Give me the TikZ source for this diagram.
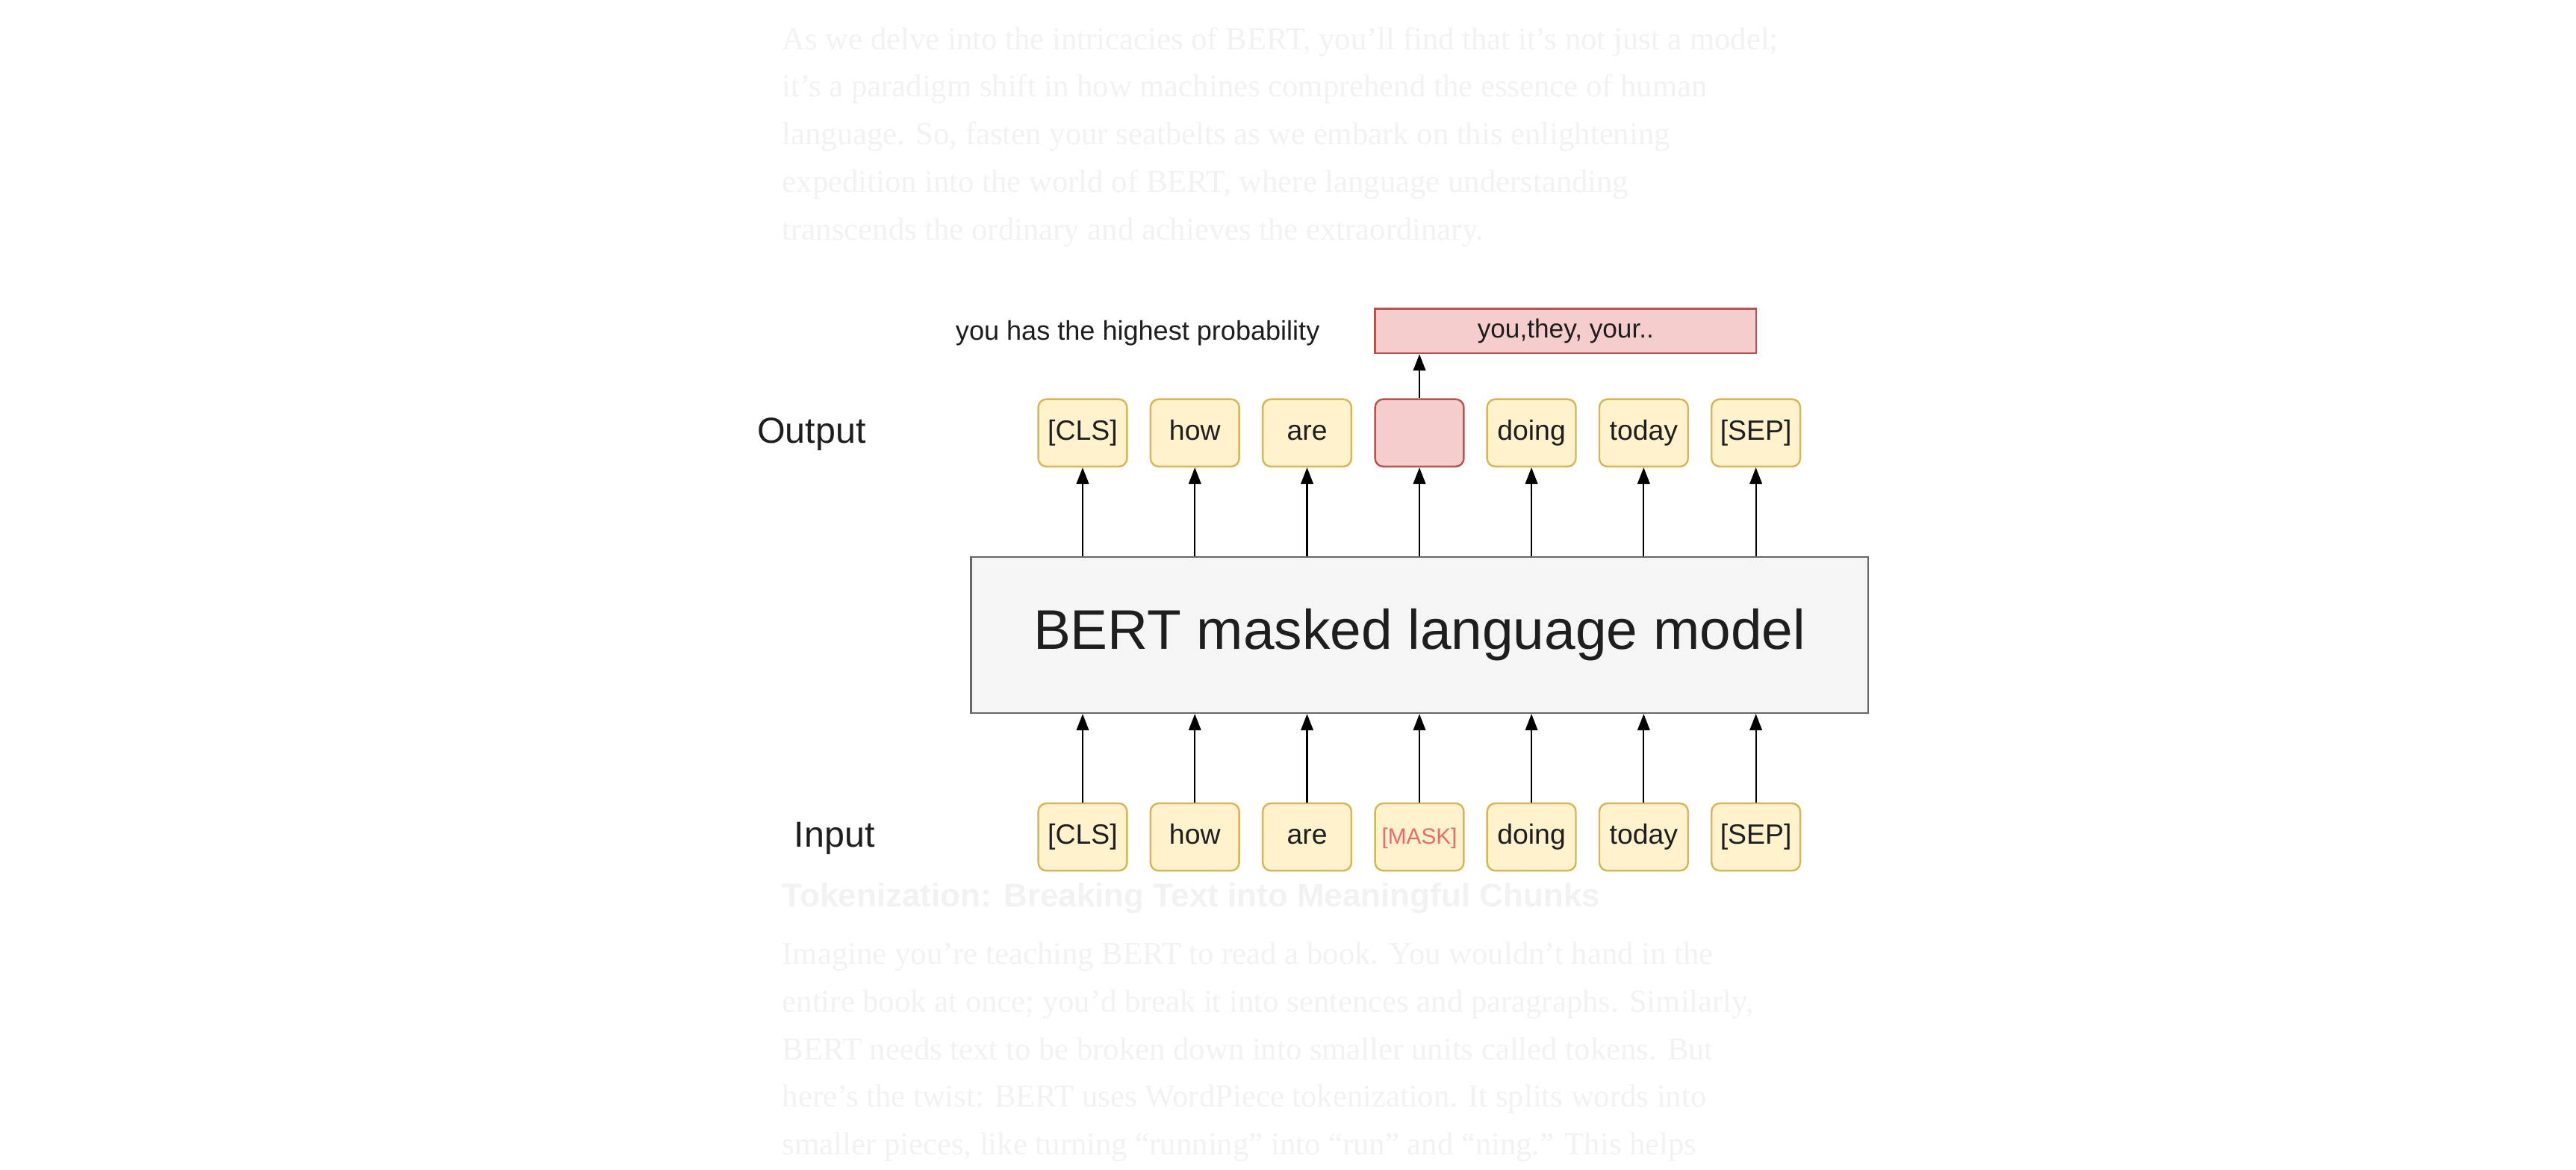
\documentclass[tikz,border=0pt]{standalone}
\usepackage{fontspec}
\setmainfont{Liberation Sans}
\newfontfamily\bgserif{Liberation Serif}
\newfontfamily\bgsans{Liberation Sans}
\usetikzlibrary{arrows.meta,positioning}
\definecolor{tokfill}{HTML}{FFF2CC}
\definecolor{tokdraw}{HTML}{D6B656}
\definecolor{pinkfill}{HTML}{F5CDCC}
\definecolor{pinkdraw}{HTML}{B85450}
\definecolor{bertfill}{HTML}{F5F5F5}
\definecolor{bertdraw}{HTML}{666666}
\definecolor{fadetext}{HTML}{F2F2F2}
\definecolor{masktext}{HTML}{EA6B66}
\definecolor{txt}{HTML}{1E1E1E}
\begin{document}
\begin{tikzpicture}[x=1pt,y=-1pt,
  token/.style={draw=tokdraw,fill=tokfill,line width=1.1pt,rounded corners=5pt,
    minimum width=54pt,minimum height=41pt,inner sep=0pt,
    text height=12pt,text depth=3.5pt,
    font=\fontsize{17}{20}\selectfont,text=txt},
  masktok/.style={token,fill=pinkfill,draw=pinkdraw},
  conn/.style={line width=1pt,-{Triangle[length=10pt,width=7.5pt]}},
  fadeline/.style={anchor=base west,inner sep=0pt,text=fadetext,font=\bgserif\fontsize{19.4}{21}\selectfont},
]
\useasboundingbox[fill=white] (0,0) rectangle (1568,712);
% faded background article text
\node[fadeline] (p1) at (476,30) {As we delve into the intricacies of BERT, you’ll find that it’s not just a model;};
\node[fadeline] (p2) at (476,59) {it’s a paradigm shift in how machines comprehend the essence of human};
\node[fadeline] (p3) at (476,88) {language. So, fasten your seatbelts as we embark on this enlightening};
\node[fadeline] (p4) at (476,117) {expedition into the world of BERT, where language understanding};
\node[fadeline] (p5) at (476,146) {transcends the ordinary and achieves the extraordinary.};
\node[anchor=base west,inner sep=0pt,text=fadetext,font=\bgsans\bfseries\fontsize{20}{22}\selectfont] (hd) at (476,552) {Tokenization: Breaking Text into Meaningful Chunks};
\node[fadeline] (q1) at (476,587) {Imagine you’re teaching BERT to read a book. You wouldn’t hand in the};
\node[fadeline] (q2) at (476,616) {entire book at once; you’d break it into sentences and paragraphs. Similarly,};
\node[fadeline] (q3) at (476,645) {BERT needs text to be broken down into smaller units called tokens. But};
\node[fadeline] (q4) at (476,674) {here’s the twist: BERT uses WordPiece tokenization. It splits words into};
\node[fadeline] (q5) at (476,703) {smaller pieces, like turning “running” into “run” and “ning.” This helps};

% BERT box
\node[draw=bertdraw,fill=bertfill,line width=1.1pt,minimum width=546pt,minimum height=95pt,
  inner sep=0pt,font=\fontsize{34}{40}\selectfont,text=txt] (bert) at (864,386.5) {BERT masked language model};

% labels
\node[font=\fontsize{22}{26}\selectfont,text=txt] (outlbl) at (494,264.5) {Output};
\node[font=\fontsize{22}{26}\selectfont,text=txt] (inlbl) at (508,510.5) {Input};
\node[font=\fontsize{16.4}{20}\selectfont,text=txt] (hint) at (692.5,203) {you has the highest probability};
\node[draw=pinkdraw,fill=pinkfill,line width=1.1pt,minimum width=232pt,minimum height=27pt,
  inner sep=0pt,text height=11.5pt,text depth=3.5pt,font=\fontsize{16}{20}\selectfont,text=txt] (cand) at (953,201.5) {you,they, your..};

% output tokens
\node[token] (o1) at (659,263.5) {[CLS]};
\node[token] (o2) at (727.3,263.5) {how};
\node[token] (o3) at (795.6,263.5) {are};
\node[masktok] (o4) at (864,263.5) {};
\node[token] (o5) at (932.2,263.5) {doing};
\node[token] (o6) at (1000.5,263.5) {today};
\node[token] (o7) at (1068.8,263.5) {[SEP]};

% input tokens
\node[token] (i1) at (659,509.5) {[CLS]};
\node[token] (i2) at (727.3,509.5) {how};
\node[token] (i3) at (795.6,509.5) {are};
\node[token,text=masktext,font=\fontsize{13.5}{16}\selectfont] (i4) at (864,509.5) {[MASK]};
\node[token] (i5) at (932.2,509.5) {doing};
\node[token] (i6) at (1000.5,509.5) {today};
\node[token] (i7) at (1068.8,509.5) {[SEP]};

% connectors
\foreach \k in {1,...,7}{
  \draw[conn] (i\k.north) -- (i\k.north |- bert.south);
  \draw[conn] (o\k.south |- bert.north) -- (o\k.south);
}
\draw[conn] (o4.north) -- (o4.north |- cand.south);
\end{tikzpicture}
\end{document}
